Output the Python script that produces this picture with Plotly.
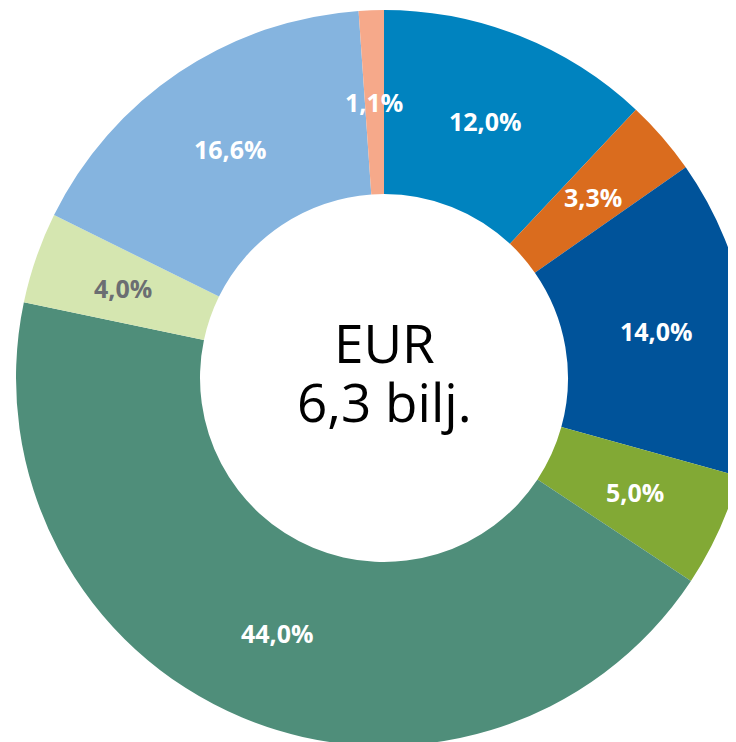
import math
import plotly.graph_objects as go

labels = ["A", "B", "C", "D", "E", "F", "G", "H"]
values = [12.0, 3.3, 14.0, 5.0, 44.0, 4.0, 16.6, 1.1]
text_labels = ["12,0%", "3,3%", "14,0%", "5,0%", "44,0%", "4,0%", "16,6%", "1,1%"]
colors = ["#0083BF", "#DA6C1E", "#00539A", "#82A935", "#4F8E7A", "#D5E6B0", "#85B4DF", "#F6A98A"]
text_colors = ["white", "white", "white", "white", "white", "#6B6E72", "white", "white"]
center_lines = ["EUR", "6,3 bilj."]

HOLE = 0.5
ML, MT = 8, 2
SIDE = 736
W, H = ML + SIDE, MT + SIDE

fig = go.Figure(go.Pie(
    labels=labels,
    values=values,
    textinfo="none",
    sort=False,
    direction="clockwise",
    rotation=0,
    hole=HOLE,
    marker=dict(colors=colors, line=dict(width=0)),
    hoverinfo="skip",
    showlegend=False,
))

# slice labels at the middle of the ring, mid-angle of each slice (derived from values)
total = sum(values)
cum = 0.0
r_lab = 0.5 * (1 + HOLE) / 2
for v, t, c in zip(values, text_labels, text_colors):
    mid = (cum + v / 2) / total * 2 * math.pi
    cum += v
    fig.add_annotation(
        x=0.5 + r_lab * math.sin(mid), y=0.5 + r_lab * math.cos(mid),
        xref="paper", yref="paper", text=t, showarrow=False,
        font=dict(family="Open Sans", size=25, color=c, weight="bold"),
        xanchor="center", yanchor="middle",
    )

fig.add_annotation(x=0.5, y=1 - (341 - 9) / SIDE, xref="paper", yref="paper", text=center_lines[0],
                   showarrow=False, font=dict(family="Open Sans", size=53, color="black"),
                   xanchor="center", yanchor="middle")
fig.add_annotation(x=0.5, y=1 - (400 - 9) / SIDE, xref="paper", yref="paper", text=center_lines[1],
                   showarrow=False, font=dict(family="Open Sans", size=53, color="black"),
                   xanchor="center", yanchor="middle")

fig.update_layout(
    width=W, height=H,
    margin=dict(l=ML, r=0, t=MT, b=0),
    paper_bgcolor="white",
    plot_bgcolor="white",
)

fig.write_html("out.html")
